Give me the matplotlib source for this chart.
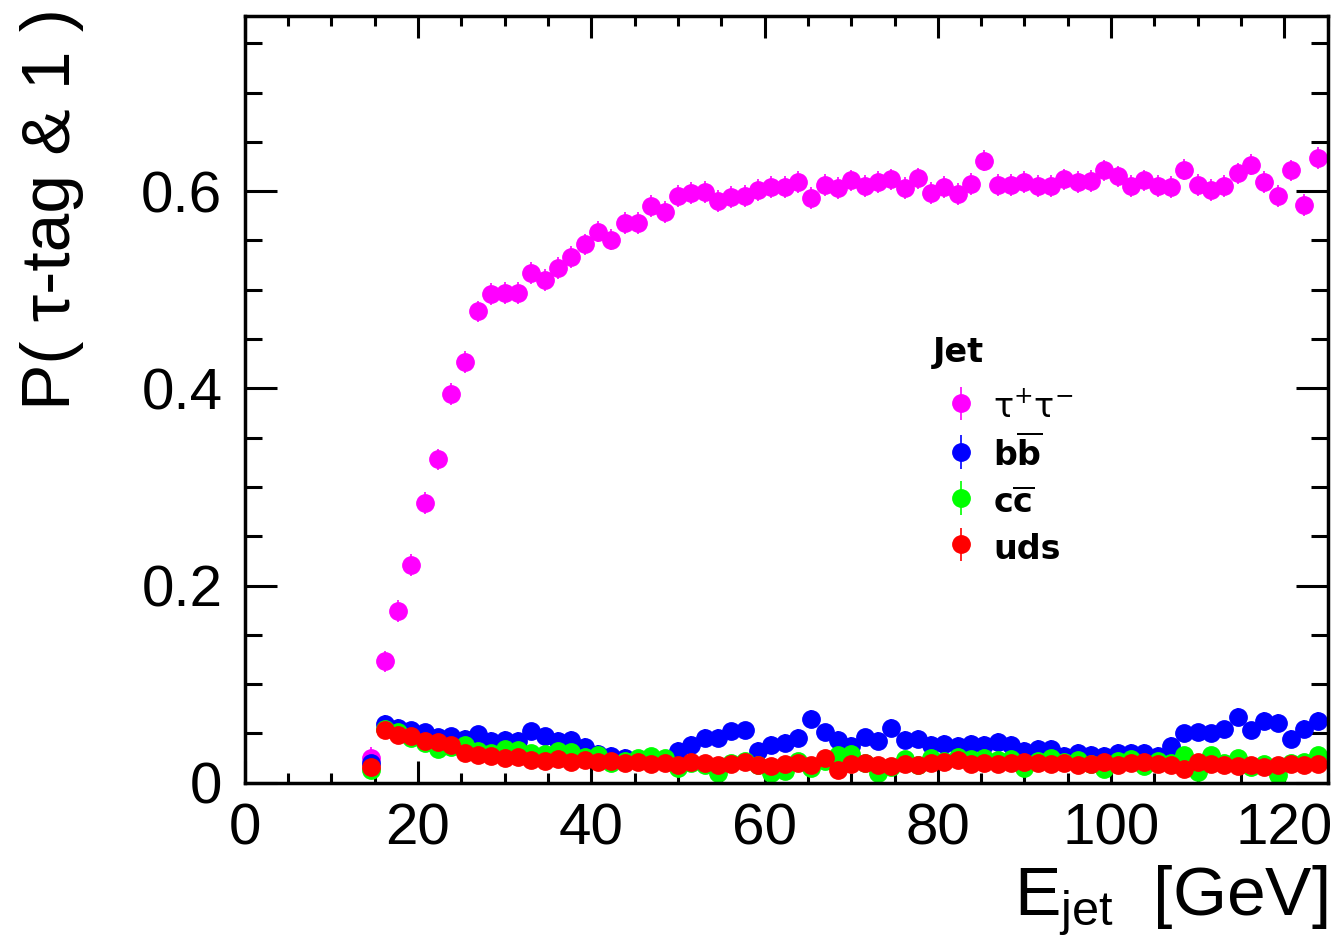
import numpy as np
import matplotlib
matplotlib.use('Agg')
import matplotlib.pyplot as plt
from matplotlib.ticker import MultipleLocator

plt.rcParams['font.family'] = ['Liberation Sans', 'DejaVu Sans']
plt.rcParams['mathtext.fontset'] = 'custom'
plt.rcParams['mathtext.rm'] = 'Liberation Sans'
plt.rcParams['mathtext.it'] = 'Liberation Sans:italic'
plt.rcParams['mathtext.bf'] = 'Liberation Sans:bold'

# histogram binning: 130 bins from 0 to 200 GeV, filled bins 9..80
bin_edges = np.linspace(0, 200, 131)
bin_centers = 0.5 * (bin_edges[:-1] + bin_edges[1:])
e_jet = bin_centers[9:81]

p_tautau = [0.025, 0.123, 0.174, 0.221, 0.284, 0.328, 0.394, 0.427, 0.478, 0.496,
            0.497, 0.497, 0.517, 0.510, 0.522, 0.533, 0.546, 0.559, 0.551, 0.568,
            0.568, 0.585, 0.579, 0.595, 0.598, 0.599, 0.590, 0.594, 0.595, 0.601,
            0.604, 0.604, 0.609, 0.593, 0.606, 0.603, 0.611, 0.605, 0.609, 0.612,
            0.603, 0.613, 0.598, 0.604, 0.597, 0.607, 0.631, 0.606, 0.606, 0.609,
            0.605, 0.605, 0.612, 0.609, 0.610, 0.621, 0.615, 0.605, 0.611, 0.605,
            0.604, 0.622, 0.606, 0.601, 0.605, 0.618, 0.627, 0.609, 0.595, 0.621,
            0.586, 0.634]

p_bb = [0.020, 0.060, 0.056, 0.053, 0.051, 0.046, 0.047, 0.044, 0.049, 0.042,
        0.043, 0.042, 0.052, 0.047, 0.042, 0.043, 0.036, 0.029, 0.027, 0.025,
        0.024, 0.023, 0.024, 0.032, 0.038, 0.045, 0.045, 0.052, 0.053, 0.032,
        0.038, 0.040, 0.045, 0.065, 0.051, 0.043, 0.037, 0.046, 0.042, 0.056,
        0.043, 0.044, 0.038, 0.039, 0.037, 0.039, 0.038, 0.041, 0.038, 0.032,
        0.034, 0.034, 0.027, 0.030, 0.028, 0.027, 0.030, 0.030, 0.030, 0.027,
        0.037, 0.050, 0.051, 0.050, 0.054, 0.067, 0.053, 0.063, 0.061, 0.044,
        0.055, 0.063]

p_cc = [0.013, 0.055, 0.051, 0.045, 0.040, 0.034, 0.036, 0.038, 0.032, 0.030,
        0.034, 0.033, 0.030, 0.029, 0.032, 0.031, 0.026, 0.028, 0.020, 0.022,
        0.025, 0.027, 0.025, 0.015, 0.020, 0.018, 0.010, 0.020, 0.022, 0.018,
        0.010, 0.012, 0.022, 0.015, 0.022, 0.028, 0.029, 0.020, 0.010, 0.016,
        0.024, 0.018, 0.025, 0.022, 0.026, 0.024, 0.025, 0.023, 0.024, 0.015,
        0.022, 0.025, 0.021, 0.023, 0.019, 0.014, 0.022, 0.024, 0.017, 0.022,
        0.020, 0.028, 0.011, 0.028, 0.020, 0.025, 0.016, 0.019, 0.008, 0.020,
        0.021, 0.028]

p_uds = [0.016, 0.053, 0.048, 0.047, 0.042, 0.041, 0.038, 0.030, 0.028, 0.027,
         0.025, 0.026, 0.023, 0.022, 0.024, 0.021, 0.023, 0.021, 0.022, 0.020,
         0.021, 0.019, 0.020, 0.018, 0.021, 0.020, 0.018, 0.019, 0.021, 0.018,
         0.017, 0.019, 0.020, 0.018, 0.025, 0.013, 0.019, 0.020, 0.018, 0.017,
         0.019, 0.018, 0.020, 0.021, 0.023, 0.019, 0.020, 0.019, 0.020, 0.021,
         0.020, 0.019, 0.020, 0.018, 0.019, 0.021, 0.018, 0.020, 0.021, 0.019,
         0.018, 0.014, 0.021, 0.019, 0.018, 0.017, 0.018, 0.016, 0.018, 0.019,
         0.018, 0.019]

series = [
    (p_tautau, 0.011, '#ff00ff', r'$\mathrm{\tau^{+}\tau^{-}}$'),
    (p_bb, 0.009, '#0000ff', r'$\mathbf{b}\overline{\mathbf{b}}$'),
    (p_cc, 0.007, '#00ff00', r'$\mathbf{c}\overline{\mathbf{c}}$'),
    (p_uds, 0.005, '#ff0000', 'uds'),
]

fig = plt.figure(figsize=(13.39, 9.41), dpi=100)
ax = fig.add_axes([0.1827, 0.1682, 0.8089, 0.8151])

for vals, err, col, lab in series:
    ax.errorbar(e_jet, vals, yerr=err, fmt='o', color=col, ms=12.5,
                elinewidth=1.2, capsize=0, label=lab)

ax.set_xlim(0, 125)
ax.set_ylim(0, 0.778)
ax.set_xticks([0, 20, 40, 60, 80, 100, 120])
ax.set_yticks([0, 0.2, 0.4, 0.6])
ax.set_yticklabels(['0', '0.2', '0.4', '0.6'])
ax.xaxis.set_minor_locator(MultipleLocator(5))
ax.yaxis.set_minor_locator(MultipleLocator(0.05))

for s in ax.spines.values():
    s.set_linewidth(2.5)
ax.tick_params(which='both', direction='in', top=True, right=True, width=2.2,
               labelsize=42)
ax.tick_params(axis='x', which='major', length=16, pad=14)
ax.tick_params(axis='x', which='minor', length=7)
ax.tick_params(axis='y', which='major', length=23, pad=16)
ax.tick_params(axis='y', which='minor', length=12)

fig.text(1327 / 1339, 1 - 915 / 941, r'E$_{\mathrm{jet}}$  [GeV]', fontsize=50,
         ha='right', va='baseline')
fig.text(52 / 1339, 1 - 8 / 941, 'P( τ-tag & 1 )', fontsize=50, rotation=90,
         ha='center', va='top')

# legend header
fig.text(933 / 1339, 1 - 353 / 941, 'Jet', fontsize=24, fontweight='bold',
         family='DejaVu Sans', ha='left', va='center')

leg = ax.legend(loc='upper left', bbox_to_anchor=(933 / 1339, 1 - 389 / 941),
                bbox_transform=fig.transFigure, frameon=False,
                prop={'family': 'DejaVu Sans', 'weight': 'bold', 'size': 24,
                      'math_fontfamily': 'dejavusans'},
                handlelength=1.68, handleheight=1.25, handletextpad=0.12,
                labelspacing=0.31, borderpad=0, borderaxespad=0)

fig.savefig('out.png', dpi=100)
